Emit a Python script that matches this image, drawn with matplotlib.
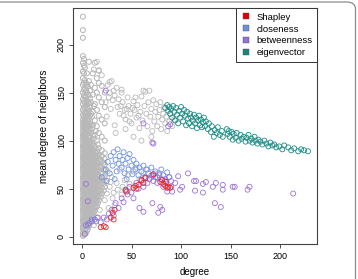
import numpy as np
import matplotlib
matplotlib.use("Agg")
import matplotlib.pyplot as plt
from matplotlib.lines import Line2D
from matplotlib.patches import FancyBboxPatch

plt.rcParams['font.family'] = ['Liberation Sans', 'DejaVu Sans']

##### DATA (degree, mean degree of neighbors) #####

# dense grey band of low-degree nodes: one list of neighbour means per degree
band_deg = [1, 2, 3, 4, 5, 6, 7, 8, 9, 10, 11, 12, 13, 14, 15, 16, 17, 19, 20, 22, 23]
band_mnd = [
    [1, 4, 8, 11, 15, 18, 22, 26, 29, 33, 37, 40, 44, 48, 51, 55, 59, 62, 66, 70, 73, 77, 81, 84, 88, 92, 95, 99,
     103, 106, 110, 114, 118, 122, 127, 132, 138, 143, 150, 158, 165, 172, 181, 188, 207, 215, 229],
    [2, 6, 10, 13, 17, 20, 24, 28, 31, 35, 39, 42, 46, 50, 53, 57, 61, 64, 68, 72, 75, 79, 83, 86, 90, 94, 97,
     101, 105, 108, 112, 116, 120, 125, 130, 135, 141, 147, 153, 160, 170, 178, 185],
    [3, 7, 11, 15, 19, 23, 27, 30, 34, 38, 41, 45, 49, 52, 56, 60, 63, 67, 71, 74, 78, 82, 85, 89, 93, 96, 100,
     104, 107, 111, 115, 119, 123, 128, 134, 140, 146, 155, 163, 176],
    [4, 9, 13, 17, 21, 25, 29, 33, 36, 40, 44, 47, 51, 55, 58, 62, 66, 69, 73, 77, 80, 84, 88, 91, 95, 99, 102,
     106, 110, 114, 118, 124, 130, 137, 145, 152, 160],
    [6, 11, 15, 19, 23, 27, 31, 35, 39, 43, 47, 50, 54, 58, 62, 66, 70, 74, 78, 82, 86, 90, 94, 98, 102, 107,
     112, 117, 122, 128, 134, 141, 150, 158, 170],
    [8, 13, 18, 22, 26, 30, 34, 38, 42, 46, 50, 54, 58, 62, 66, 70, 74, 78, 82, 86, 90, 94, 99, 104, 109, 114,
     120, 126, 133, 140, 148, 156],
    [11, 16, 21, 25, 29, 33, 37, 41, 45, 49, 53, 57, 61, 65, 69, 73, 77, 81, 85, 89, 94, 99, 104, 110, 116, 123,
     131, 139, 147, 162, 182],
    [14, 19, 24, 28, 33, 38, 43, 48, 52, 57, 62, 67, 72, 77, 82, 87, 92, 98, 104, 111, 118, 126, 135, 144, 152],
    [18, 22, 26, 30, 34, 38, 42, 46, 50, 54, 58, 62, 66, 70, 74, 78, 82, 85, 89, 92, 96, 100, 108, 117, 128, 140,
     158],
    [20, 25, 30, 35, 40, 45, 50, 55, 60, 65, 70, 75, 80, 86, 92, 98, 112, 125],
    [22, 26, 29, 33, 36, 40, 43, 47, 50, 54, 57, 61, 64, 68, 71, 75, 78, 82, 86, 90, 95, 105, 116, 130, 148, 170],
    [25, 30, 35, 40, 45, 50, 55, 60, 65, 70, 75, 80, 85, 90, 102, 136],
    [27, 31, 35, 39, 43, 47, 51, 55, 59, 63, 67, 71, 75, 79, 84, 89, 94, 106, 121, 138, 155, 181],
    [30, 36, 42, 48, 54, 60, 66, 72, 78, 84, 92, 110],
    [32, 37, 41, 46, 50, 55, 59, 64, 68, 73, 77, 82, 88, 100, 115, 132, 150, 165],
    [35, 41, 47, 53, 59, 65, 71, 77, 84, 96],
    [38, 43, 48, 53, 58, 63, 68, 73, 79, 85, 92, 108, 126, 145, 160, 173],
    [42, 48, 54, 60, 66, 72, 80],
    [45, 51, 56, 62, 67, 72, 78, 84, 90, 104, 122, 140, 157],
    [48, 55, 62, 70, 77],
    [52, 58, 63, 69, 75, 81, 87, 100, 118, 135, 150],
]

# other grey nodes (upper arm, stragglers, lower mix)
grey_deg = [26, 28, 30, 31, 33, 35, 36, 38, 40, 41, 43, 44, 46, 47, 49, 50, 52, 53, 55, 56, 58, 59, 60, 61,
            62, 63, 65, 66, 67, 68, 69, 70, 71, 72, 73, 74, 75, 76, 77, 78, 79, 80, 81, 82, 83, 84, 85, 86,
            88, 89, 91, 93, 24, 27, 29, 32, 37, 39, 42, 45, 48, 51, 54, 57,
            52, 60, 44, 33, 25, 20, 15, 12, 17, 28, 40, 64, 34, 70,
            21, 23, 25, 28, 30, 33, 36, 38, 43, 46, 48, 52, 55, 58, 62, 66, 70, 74, 27, 31, 40, 18, 15, 12,
            26, 29, 32, 35, 41]
grey_mnd = [158, 150, 162, 142, 147, 155, 135, 128, 150, 140, 132, 122, 145, 136, 128, 118, 141, 132, 124, 137,
            113, 130, 146, 121, 152, 136, 128, 115, 140, 152, 125, 133, 110, 142, 120, 130, 138, 115, 125, 132,
            140, 112, 122, 128, 135, 118, 125, 110, 120, 128, 115, 122, 140, 145, 133, 152, 143, 136, 126,
            133, 120, 134, 145, 126,
            104, 100, 112, 116, 125, 168, 182, 174, 173, 161, 153, 151, 108, 104,
            59, 38, 45, 52, 62, 33, 49, 70, 59, 64, 55, 68, 72, 60, 66, 70, 62, 66, 30, 40, 44, 28, 20, 12,
            68, 57, 46, 56, 52]

closeness_deg = [20, 24, 26, 28, 29, 31, 32, 34, 35, 36, 37, 38, 40, 41, 42, 43, 44, 46, 47, 48, 50, 51, 52,
                 54, 55, 57, 58, 60, 62, 63, 65, 67, 68, 70, 72, 74, 76, 78, 80, 82, 84, 86, 88, 90,
                 10, 14, 6, 25, 45, 33]
closeness_mnd = [62, 70, 78, 66, 84, 74, 88, 80, 68, 91, 76, 84, 72, 80, 88, 66, 76, 82, 70, 86, 74, 65, 80,
                 70, 76, 64, 72, 68, 74, 62, 70, 66, 60, 72, 64, 68, 62, 66, 70, 64, 60, 67, 62, 58,
                 18, 16, 12, 58, 60, 60]

betweenness_deg = [3, 4, 7, 10, 13, 16, 19, 22, 25, 27, 30, 32, 34, 37, 40, 42, 44, 46, 48, 50, 52, 55, 57,
                   60, 62, 64, 66, 68, 70, 72, 74, 76, 78, 80, 82, 84, 86, 88, 90, 91, 94, 97, 99, 101, 107,
                   113, 115, 114, 122, 125, 122, 132, 135, 142, 142, 152, 154, 167, 169, 213, 134, 140, 71,
                   77, 79, 81, 58, 62, 4, 6, 24, 62, 87, 89, 71, 72]
betweenness_mnd = [3, 12, 14, 16, 18, 20, 15, 20, 18, 24, 28, 22, 35, 30, 40, 36, 48, 44, 52, 46, 40, 56, 50,
                   58, 52, 62, 56, 60, 64, 58, 62, 56, 64, 60, 52, 58, 47, 62, 52, 47, 56, 63, 49, 52, 66,
                   58, 58, 48, 55, 57, 46, 52, 56, 49, 54, 52, 52, 49, 52, 45, 35, 31, 35,
                   25, 31, 28, 30, 26, 55, 37, 152, 118, 115, 117, 98, 97]

shapley_deg = [19, 22, 24, 29, 31, 33, 32, 44, 45, 52, 54, 55, 57, 60, 62, 64, 72, 79, 81, 82, 84, 85, 86,
               87, 89]
shapley_mnd = [10, 11, 10, 20, 25, 28, 18, 49, 47, 51, 53, 50, 54, 59, 56, 61, 65, 57, 59, 55, 53, 57, 51,
               52, 51]

eigen_deg = [84, 86, 87, 88, 89, 90, 91, 92, 93, 94, 95, 96, 97, 98, 99, 100, 101, 102, 103, 104, 105, 106,
             107, 108, 109, 110, 111, 112, 113, 114, 115, 116, 117, 118, 119, 120, 121, 122, 123, 124, 125,
             127, 128, 130, 131, 133, 134, 136, 137, 139, 141, 142,
             146, 147, 148, 149, 151, 152, 153, 155, 156, 158, 160, 161, 163, 165, 166, 168, 169, 171, 172,
             174, 175, 177, 178, 180, 182, 184, 186, 188, 190, 192, 194, 196, 199, 202, 204, 208, 211, 214,
             218, 221, 224, 228]
eigen_mnd = [134, 137, 131, 135, 128, 133, 124, 136, 130, 121, 134, 127, 118, 131, 124, 135, 128, 120, 132,
             126, 116, 130, 123, 118, 128, 124, 115, 121, 127, 118, 124, 113, 121, 126, 116, 122, 114, 119,
             124, 115, 120, 112, 118, 109, 115, 104, 111, 108, 114, 106, 110, 104,
             112, 107, 110, 104, 109, 101, 107, 103, 108, 100, 106, 102, 104, 99, 103, 106, 100, 102, 98,
             104, 100, 97, 101, 99, 96, 100, 97, 94, 98, 95, 96, 93, 94, 91, 95, 93, 90, 92, 89, 91, 90, 89]

legend_labels = ['Shapley', 'closeness', 'betweenness', 'eigenvector']

##### COLOURS #####

c_grey = '#b8b8b8'
c_red = '#e8262a'
c_blue = '#6f93e0'
c_purple = '#9a72d8'
c_teal = '#1c8c84'

##### FIGURE #####

fig = plt.figure(figsize=(3.58, 2.79), dpi=100)
ax = fig.add_axes([73 / 358, 35 / 279, 244 / 358, 236 / 279])

# outer frame of the panel (rounded corner at top right)
frame = FancyBboxPatch((-0.1, -0.1), 0.1 + 355.5 / 358, 0.1 + 277 / 279,
                       boxstyle='round,pad=0,rounding_size=0.025', transform=fig.transFigure,
                       facecolor='none', edgecolor='#8c8c8c', linewidth=0.9, clip_on=False)
fig.patches.append(frame)

kw = dict(s=13, facecolors='none', linewidths=0.6)
for d, vals in zip(band_deg, band_mnd):
    ax.scatter([d] * len(vals), vals, edgecolors=c_grey, s=13, facecolors='none', linewidths=0.75)
ax.scatter(grey_deg, grey_mnd, edgecolors=c_grey, **kw)
ax.scatter(eigen_deg, eigen_mnd, edgecolors=c_teal, **kw)
ax.scatter(closeness_deg, closeness_mnd, edgecolors=c_blue, **kw)
ax.scatter(betweenness_deg, betweenness_mnd, edgecolors=c_purple, **kw)
ax.scatter(shapley_deg, shapley_mnd, edgecolors=c_red, **kw)

ax.set_xlim(-9, 237)
ax.set_ylim(-7.5, 238)
ax.set_xticks([0, 50, 100, 150, 200])
ax.set_yticks([0, 50, 100, 150, 200])
ax.tick_params(direction='out', length=3, width=0.6, labelsize=6.5, color='#333333', pad=3)
ax.tick_params(axis='y', pad=2)
plt.setp(ax.get_yticklabels(), rotation=90, va='center')
for sp in ax.spines.values():
    sp.set_linewidth(0.8)
    sp.set_color('#444444')

ax.set_xlabel('degree', fontsize=7, labelpad=4)
ax.set_ylabel('mean degree of neighbors', fontsize=7, labelpad=6)

handles = [Line2D([], [], marker='s', linestyle='none', markersize=4.5, markerfacecolor=c,
                  markeredgecolor='#555555', markeredgewidth=0.3)
           for c in ['#e00000', '#6a90dc', '#9170d8', '#17857b']]
leg = ax.legend(handles, legend_labels, loc='upper right', fontsize=6.8, frameon=True, fancybox=False,
                borderaxespad=0, handlelength=1.0, handletextpad=0.6, labelspacing=0.3,
                borderpad=0.5, framealpha=1)
leg.get_frame().set_edgecolor('#333333')
leg.get_frame().set_linewidth(0.7)

fig.savefig('out.png', dpi=100)
